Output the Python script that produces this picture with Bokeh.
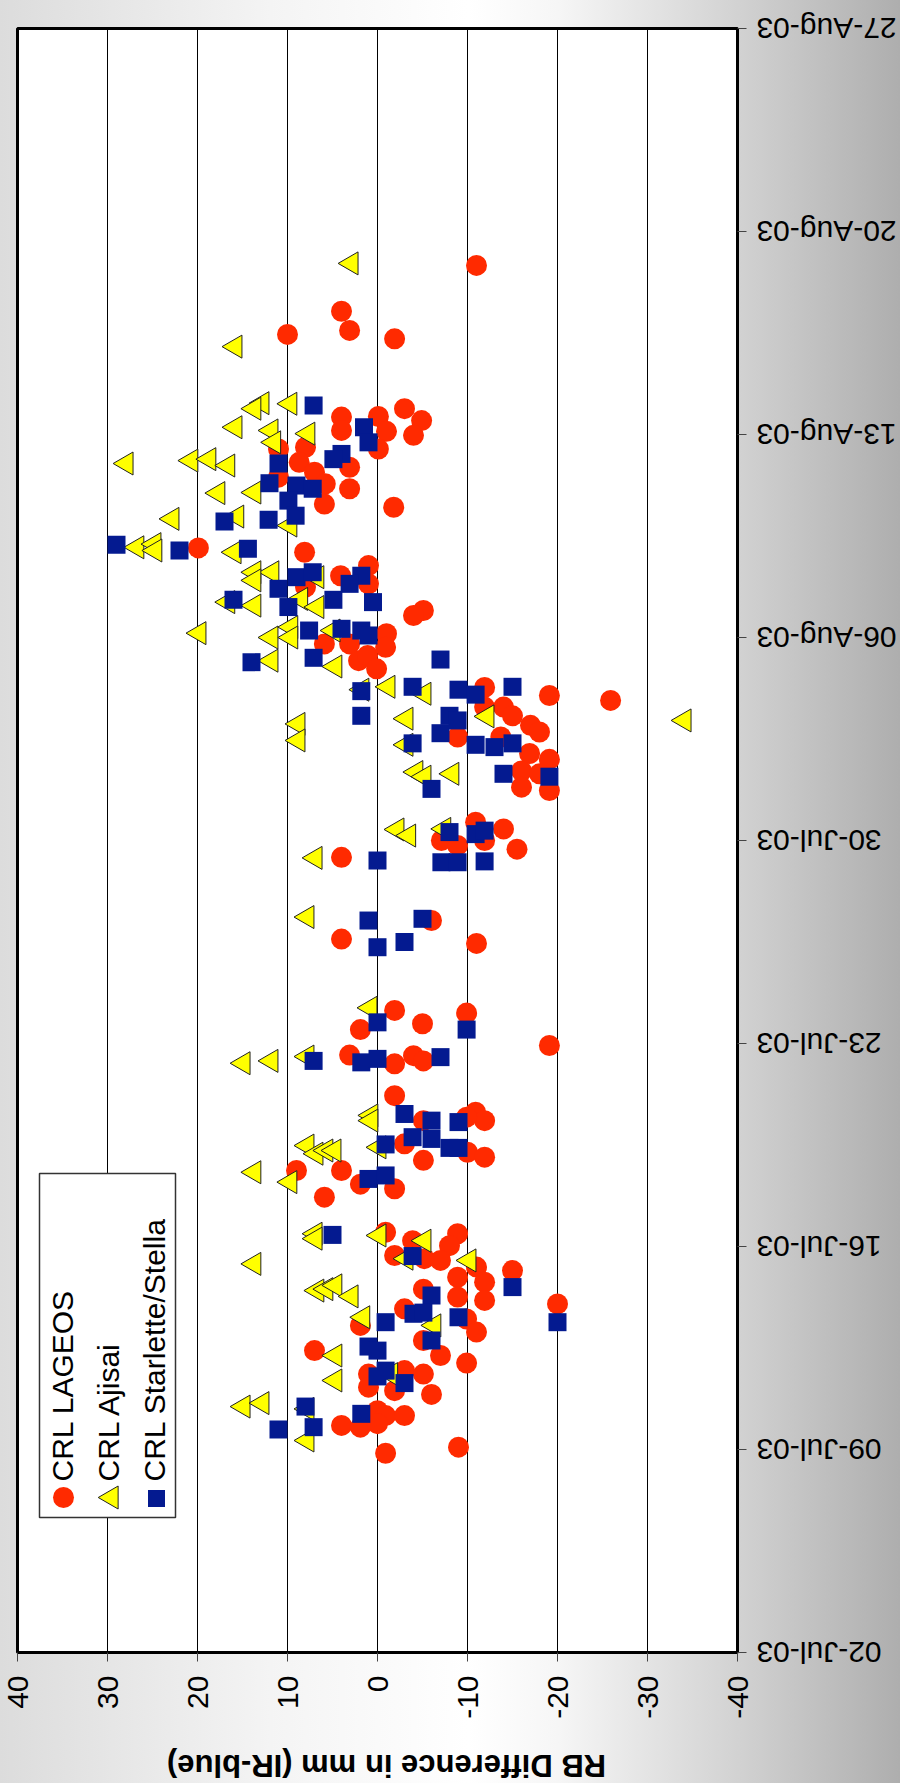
import math
from bokeh.plotting import figure
from bokeh.models import Range1d, FixedTicker, Label, ColumnDataSource
from bokeh.core.properties import value
from bokeh.embed import file_html
from bokeh.resources import INLINE

# ---- data: days after 02-Jul-03 (time axis) and RB difference in mm (IR-blue) ----
lageos_days = [47.83, 46.25, 45.59, 45.45, 45.3, 42.89, 42.6, 42.62, 42.48, 42.14, 42.11, 41.97,
               41.5, 41.5, 41.56, 41.04, 40.87, 40.7, 40.53, 40.3, 40.13, 39.6, 39.49, 38.09, 37.94,
               37.13, 37.48, 36.85, 36.74, 35.93, 35.76, 35.13, 34.78, 34.78,
               34.2, 34.38, 34.66, 33.92, 33.28, 33.0, 32.83, 32.6, 32.6, 32.3, 31.57, 31.97, 31.74,
               31.57, 31.0, 30.8, 30.4, 29.84, 30.3, 29.72, 28.63, 28.4, 28.0, 27.83, 28.0, 27.7,
               27.42, 25.24, 24.6, 24.45, 22.14, 22.05, 21.48, 21.68, 20.93, 20.6, 20.3, 20.58, 20.4,
               19.2, 18.63, 18.34, 18.46, 18.34, 17.54, 16.97, 17.25, 17.08, 16.62, 16.62, 16.15,
               15.99, 15.7, 14.49, 14.2, 14.44, 14.03, 13.69, 13.58, 13.52, 13.29, 13.17,
               12.94, 12.77, 12.53, 12.26, 12.14, 12.02, 11.28, 11.85, 11.5, 11.05, 10.76, 10.41,
               10.24, 9.98, 9.6, 9.72, 9.6, 9.15, 9.03, 8.9, 8.34, 8.17, 8.17, 7.83, 7.77, 7.89,
               6.87, 7.08]
lageos_rb = [-11.0, 4.0, 3.1, 10.0, -1.9, -3.0, 4.0, -0.1, -4.9, 4.0, -1.0, -4.0,
             -0.1, 11.0, 8.0, 8.7, 3.1, 7.0, 11.0, 5.8, 3.1, 5.9, -1.8, 19.9, 8.1,
             4.1, 1.0, 1.0, 8.0, -5.1, -4.0, -1.0, 5.9, 3.1,
             2.1, 1.1, -0.9, 0.1, -11.9, -19.1, -25.9, -11.9, -14.0, -15.0, -8.9, -17.0, -18.0,
             -13.7, -16.9, -19.1, -16.0, -16.0, -18.0, -19.1, -10.9, -14.0, -7.1, -8.9, -11.9, -15.5,
             4.0, -6.0, 4.0, -11.0, -1.9, -9.9, 1.9, -5.0, -19.1, 3.1, -1.9, -4.0, -5.1,
             -1.9, -10.9, -11.9, -9.9, -5.1, -3.0, -5.1, -10.0, -11.9, 9.0, 4.0, 1.9,
             -1.9, 5.9, -0.9, -3.9, -8.9, -8.0, -1.9, -5.2, -7.0, -11.0, -15.0,
             -8.9, -11.9, -5.1, -8.9, -11.9, -20.0, 1.9, -3.0, -9.9, -11.0, -5.1, 7.0,
             -7.0, -9.9, 1.0, -3.0, -5.1, 1.0, -1.9, -6.0, 0.0, -0.9, -3.0, 4.0, 1.9, 0.0,
             -0.9, -9.0]

ajisai_days = [47.9, 45.03, 43.08, 42.89, 43.06, 42.25, 42.14, 42.03,
               41.73, 41.0, 41.1, 41.15, 40.93, 39.98, 40.0, 39.09, 39.17, 38.86, 38.11, 38.22,
               38.0, 37.94, 37.25, 37.25, 36.97, 37.08, 36.22, 36.1, 36.33, 36.05, 35.15, 35.0,
               35.36, 35.0, 35.24,
               34.2, 34.0, 33.2, 33.3, 33.06, 32.28, 32.02, 31.45, 32.2, 31.3, 30.36, 30.2, 30.3,
               28.38, 28.17, 28.4, 32.14,
               27.4, 25.36, 22.23, 20.32, 20.4, 20.55,
               18.52, 18.34, 17.48, 17.2, 17.31, 17.31, 17.42, 16.56, 16.22, 14.44, 14.27, 14.38,
               14.2, 13.58, 13.52, 13.4,
               12.48, 12.53, 12.66, 12.28, 11.56, 11.28, 10.24, 9.38, 9.6, 8.48, 8.6, 8.4, 7.31]
ajisai_rb = [2.9, 15.8, 12.8, 13.7, 9.7, 15.8, 11.8, 7.7,
             11.5, 27.9, 20.7, 18.7, 16.6, 17.7, 13.7, 22.8, 15.6, 9.7, 26.7, 24.8,
             24.7, 15.9, 13.7, 11.7, 13.7, 6.7, 16.6, 13.7, 8.5, 6.7, 19.8, 11.8,
             9.6, 9.6, 4.9,
             11.8, 4.7, 1.7, -1.2, -5.2, -12.2, 8.8, 8.8, -3.2, -3.2, -4.3, -5.2, -8.3,
             -2.2, -3.5, -7.4, -34.1,
             6.9, 7.8, 0.8, 14.9, 11.8, 7.8,
             0.7, 0.7, 7.8, 6.8, 5.7, 4.8, -0.2, 13.7, 9.7, 6.9, 6.9, -0.2,
             -5.2, -3.2, -10.2, 13.7,
             6.7, 5.7, 4.7, 2.9, 1.6, -6.3, 4.7, 4.7, -1.5, 14.9, 12.8, 7.8, 7.8]

starlette_days = [43.0, 42.25,
                  41.73, 41.33, 41.15, 41.0, 40.32, 40.24, 40.13, 39.72, 39.0, 39.06, 39.2, 38.2,
                  38.0, 38.06, 37.08, 37.25, 37.13, 36.85, 36.68, 36.3, 36.05, 36.3, 36.22, 35.24,
                  35.3, 35.24, 35.07,
                  34.15, 34.3, 34.24, 33.15, 33.3, 33.2, 33.03, 33.3, 32.3, 32.3, 32.14, 31.7, 31.35,
                  31.3, 31.22, 31.35, 29.78, 30.3, 30.2, 28.29, 28.22, 28.34,
                  27.31, 27.25, 27.25, 27.28, 25.24, 25.3, 24.32, 24.5, 21.73, 21.48, 20.4, 20.35,
                  20.47, 20.53,
                  18.57, 18.34, 18.29, 17.77, 17.71, 17.4, 17.4, 17.52, 16.33, 16.45, 14.4, 13.67,
                  12.6, 12.31, 11.39, 11.39, 11.68, 11.72, 11.56, 10.76, 10.55, 10.41, 9.72, 9.52,
                  9.29, 8.48, 8.23, 7.69, 7.77]
starlette_rb = [7.1, 1.5,
                1.0, 4.0, 4.9, 11.0, 12.0, 9.0, 7.2, 9.9, 17.0, 12.1, 9.1, 29.0,
                22.0, 14.4, 9.0, 7.2, 1.8, 3.1, 11.0, 16.0, 9.9, 4.9, 0.5, 7.6,
                4.0, 1.8, 1.0,
                14.0, 7.1, -7.0, 1.8, -3.9, -9.0, -10.9, -15.0, 1.8, -8.0, -8.9, -7.0, -3.9,
                -10.9, -13.0, -15.0, -6.0, -14.0, -19.1, -8.0, -10.9, -11.9,
                0.0, -7.1, -8.9, -11.9, 1.0, -5.0, 0.0, -3.0, 0.0, -9.9, 7.1, 1.8,
                0.0, -7.0,
                -3.0, -6.0, -9.0, -3.9, -6.0, -8.0, -9.0, -0.9, 1.0, -0.9, 5.0, -3.9,
                -15.0, -6.0, -20.0, -0.9, -4.0, -5.1, -9.0, -6.0, 1.0, 0.0, -0.9, 0.0,
                -3.0, 8.0, 1.8, 11.0, 7.1]

series_names = ["CRL LAGEOS", "CRL Ajisai", "CRL Starlette/Stella"]
rb_ticks = [40, 30, 20, 10, 0, -10, -20, -30, -40]
rb_tick_labels = ["40", "30", "20", "10", "0", "-10", "-20", "-30", "-40"]
date_ticks = [0, 7, 14, 21, 28, 35, 42, 49, 56]
date_labels = ["02-Jul-03", "09-Jul-03", "16-Jul-03", "23-Jul-03", "30-Jul-03",
               "06-Aug-03", "13-Aug-03", "20-Aug-03", "27-Aug-03"]
axis_title = "RB Difference in mm (IR-blue)"

FONT = "Liberation Sans"
RED = "#ff2a00"
YELLOW = "#ffff00"
NAVY = "#041a90"

# ---- page geometry (pixels); the Bokeh frame spans the whole page ----
W, H = 900, 1783
BOX_L, BOX_T, BOX_R, BOX_B = 17, 28, 737, 1652          # plot-area box on the page
rb_max, rb_min = rb_ticks[0], rb_ticks[-1]
d_min, d_max = date_ticks[0], date_ticks[-1]
px_per_mm = (BOX_R - BOX_L) / (rb_max - rb_min)
px_per_day = (BOX_B - BOX_T) / (d_max - d_min)

x_range = Range1d(rb_max + BOX_L / px_per_mm, rb_min - (W - BOX_R) / px_per_mm)
y_range = Range1d(d_min - (H - BOX_B) / px_per_day, d_max + BOX_T / px_per_day)

p = figure(width=W, height=H, output_backend="svg", toolbar_location=None,
           x_range=x_range, y_range=y_range, y_axis_location=None,
           min_border_left=0, min_border_right=0, min_border_top=0, min_border_bottom=0)
p.extra_x_ranges = {"px": Range1d(0, W)}
p.extra_y_ranges = {"px": Range1d(H, 0)}
p.background_fill_color = None
p.border_fill_color = None
p.outline_line_color = None
p.styles = {"background": "linear-gradient(to right, #dcdcdc 0%, #f4f4f4 30%, #ffffff 52%, "
                          "#f6f6f6 62%, #d2d2d2 82%, #aeaeae 100%)"}
p.xgrid.visible = False
p.ygrid.visible = False

# x axis (RB difference), pinned to the bottom edge of the plot box
xa = p.xaxis[0]
xa.fixed_location = d_min
xa.ticker = FixedTicker(ticks=rb_ticks)
xa.major_label_overrides = {t: s for t, s in zip(rb_ticks, rb_tick_labels)}
xa.major_label_orientation = math.pi / 2
xa.major_label_text_font = FONT
xa.major_label_text_font_size = "30px"
xa.major_label_text_color = "black"
xa.major_label_standoff = 14
xa.axis_line_color = None
xa.major_tick_in = 0
xa.major_tick_out = 9
xa.major_tick_line_color = "#444444"
xa.minor_tick_line_color = None

# plot-area box and vertical grid lines
p.quad(left=[rb_max], right=[rb_min], bottom=[d_min], top=[d_max],
       fill_color="white", line_color=None)
p.segment(x0=rb_ticks[1:-1], x1=rb_ticks[1:-1], y0=d_min, y1=d_max,
          line_color="black", line_width=1)

# data
src_l = ColumnDataSource(dict(day=lageos_days, rb=lageos_rb))
src_a = ColumnDataSource(dict(day=ajisai_days, rb=ajisai_rb))
src_s = ColumnDataSource(dict(day=starlette_days, rb=starlette_rb))
p.scatter(x="rb", y="day", source=src_l, marker="circle", size=21,
          fill_color=RED, line_color=None)
p.scatter(x="rb", y="day", source=src_a, marker="triangle", size=23, angle=math.pi / 2,
          fill_color=YELLOW, line_color="#222222", line_width=1)
p.scatter(x="rb", y="day", source=src_s, marker="square", size=18,
          fill_color=NAVY, line_color=None)

# legend (rotated), in page pixel coordinates
p.quad(left=39, right=175, top=1173, bottom=1517, fill_color="white",
       line_color="#333333", line_width=1.5, x_range_name="px", y_range_name="px")
p.scatter(x=[63], y=[1497], marker="circle", size=21, fill_color=RED, line_color=None,
          x_range_name="px", y_range_name="px")
p.scatter(x=[111], y=[1497], marker="triangle", size=23, angle=math.pi / 2,
          fill_color=YELLOW, line_color="#222222", x_range_name="px", y_range_name="px")
p.scatter(x=[156], y=[1498], marker="square", size=17, fill_color=NAVY, line_color=None,
          x_range_name="px", y_range_name="px")
for xpos, name in zip([62, 108, 154], series_names):
    p.add_layout(Label(x=xpos, y=1481, text=name, angle=math.pi / 2,
                       text_align="left", text_baseline="middle",
                       text_font=FONT, text_font_size="30px", text_color="black",
                       x_range_name="px", y_range_name="px"))

# plot-area border on top
p.quad(left=[rb_max], right=[rb_min], bottom=[d_min], top=[d_max],
       fill_color=None, line_color="black", line_width=3)

# date axis on the right: ticks and upside-down labels
tick_src = ColumnDataSource(dict(day=date_ticks, label=date_labels,
                                 xt0=[BOX_R] * len(date_ticks),
                                 xt1=[BOX_R + 9] * len(date_ticks),
                                 xl=[BOX_R + 19] * len(date_ticks)))
p.segment(x0="xt0", x1="xt1", y0="day", y1="day", source=tick_src,
          line_color="#444444", line_width=1, x_range_name="px")
p.text(x="xl", y="day", text="label", source=tick_src, angle=math.pi,
       text_align="right", text_baseline="middle", x_range_name="px",
       text_font=value(FONT), text_font_size=value("30px"), text_color="black")

# axis title (upside down) below the tick labels
p.text(x=[386], y=[1765], text=[axis_title], angle=math.pi,
       text_align="center", text_baseline="middle",
       x_range_name="px", y_range_name="px",
       text_font=value(FONT), text_font_size=value("31px"),
       text_font_style="bold", text_color="black")

open("out.html", "w").write(file_html(p, INLINE))
